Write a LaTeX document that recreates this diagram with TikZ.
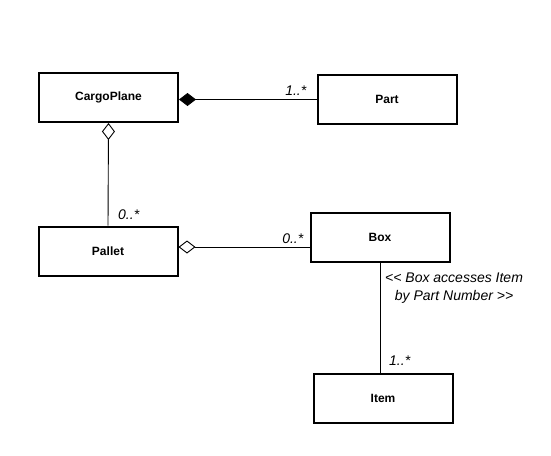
\documentclass[tikz,border=0pt]{standalone}
\usepackage{fontspec}
\setsansfont{Liberation Sans}
\usetikzlibrary{arrows.meta,positioning,calc}

\begin{document}
\begin{tikzpicture}[
        x=1pt, y=-1pt,
        cls/.style={rectangle, draw, line width=2pt, minimum width=139pt, minimum height=49pt, text centered, font=\sffamily\bfseries\fontsize{12}{14}\selectfont},
        mult/.style={font=\sffamily\itshape\fontsize{14}{18}\selectfont, inner sep=1pt},
        link/.style={line width=0.9pt},
        comp/.style={link, {Diamond[length=17pt, width=13pt]}-},
        agg/.style={link, {Diamond[open, length=17pt, width=13pt]}-}
    ]
    \useasboundingbox (0,0) rectangle (551,455);

    \node[cls] (cargo) at (108.5,97.5) {CargoPlane};
    \node[cls] (part) at (387,99.5) {Part};
    \node[cls] (pallet) at (108,251) {Pallet};
    \node[cls] (box) at (380,237) {Box};
    \node[cls] (item) at (383,398) {Item};

    \draw[comp] (part.west -| cargo.east) -- (part.west);
    \draw[agg] (cargo.south) -- (pallet.north);
    \draw[agg] ([yshift=4pt]pallet.east) -- ([yshift=4pt]pallet.east -| box.west);
    \draw[link] (box.south) -- (box.south |- item.north);

    \node[mult, anchor=south east] at ([xshift=-9pt, yshift=3pt]part.west) {1..*};
    \node[mult, anchor=south west] at ([xshift=9pt, yshift=5pt]pallet.north) {0..*};
    \node[mult, anchor=south east] at ([xshift=-5pt, yshift=6pt]pallet.east -| box.west) {0..*};
    \node[mult, anchor=south west] at ([xshift=8pt, yshift=6pt]box.south |- item.north) {1..*};
    \node[mult, anchor=north west, align=center] (note) at ([xshift=4pt, yshift=-9pt]box.south) {<{}< Box accesses Item\\by Part Number >{}>};

\end{tikzpicture}
\end{document}
